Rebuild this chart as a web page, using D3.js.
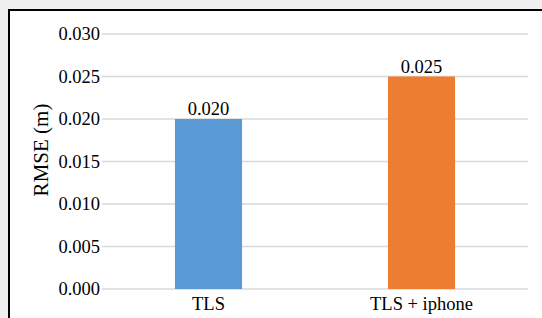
<!DOCTYPE html>
<html>
<head>
<meta charset="utf-8">
<script src="https://cdn.jsdelivr.net/npm/d3@7"></script>
<style>
  body { margin: 0; background: #f0f0f0; }
</style>
</head>
<body>
<div id="chart"></div>
<script>
// data
var categories = ["TLS", "TLS + iphone"];
var rmse = [0.020, 0.025];
var yTicks = [0, 0.005, 0.010, 0.015, 0.020, 0.025, 0.030];
var colors = ["#5b9bd5", "#ed7d31"];

var W = 542, H = 318;
var margin = {top: 34, right: 14, bottom: 29, left: 102},
  width = W - margin.left - margin.right,
  height = H - margin.top - margin.bottom;

var root = d3.select("#chart")
  .append("svg")
  .attr("width", W)
  .attr("height", H)
  .attr("font-family", "Liberation Serif")
  .style("display", "block");

// white chart area with black frame
root.append("rect")
  .attr("x", 9).attr("y", 10)
  .attr("width", W + 20).attr("height", H + 20)
  .attr("fill", "#fff")
  .attr("stroke", "#000")
  .attr("stroke-width", 2);

var svg = root.append("g")
  .attr("transform", "translate(" + margin.left + "," + margin.top + ")");

var x = d3.scaleBand().domain(categories).range([0, width]).padding(0);
var y = d3.scaleLinear().domain([0, 0.030]).range([height, 0]);
var fmt = d3.format(".3f");

// gridlines
svg.selectAll(".grid")
  .data(yTicks)
  .enter().append("line")
  .attr("x1", 0).attr("x2", width)
  .attr("y1", function(d) { return y(d); })
  .attr("y2", function(d) { return y(d); })
  .attr("stroke", "#d9d9d9")
  .attr("stroke-width", 1.3);

// y axis labels
var yAxis = svg.append("g")
  .call(d3.axisLeft(y).tickValues(yTicks).tickFormat(fmt).tickSize(0).tickPadding(2))
  .attr("font-family", "Liberation Serif")
  .attr("font-size", 18.5);
yAxis.select(".domain").remove();
yAxis.selectAll("text").attr("fill", "#000");

// bars
var barW = x.bandwidth() * 0.315;
svg.selectAll(".bar")
  .data(rmse)
  .enter().append("rect")
  .attr("x", function(d, i) { return x(categories[i]) + x.bandwidth() / 2 - barW / 2; })
  .attr("y", function(d) { return y(d); })
  .attr("width", barW)
  .attr("height", function(d) { return height - y(d); })
  .attr("fill", function(d, i) { return colors[i]; });

// value labels
svg.selectAll(".val")
  .data(rmse)
  .enter().append("text")
  .attr("x", function(d, i) { return x(categories[i]) + x.bandwidth() / 2; })
  .attr("y", function(d) { return y(d) - 4; })
  .attr("text-anchor", "middle")
  .attr("font-size", 18.5)
  .text(function(d) { return fmt(d); });

// x axis labels
svg.selectAll(".cat")
  .data(categories)
  .enter().append("text")
  .attr("x", function(d) { return x(d) + x.bandwidth() / 2; })
  .attr("y", height + 21)
  .attr("text-anchor", "middle")
  .attr("font-size", 18.5)
  .text(function(d) { return d; });

// y axis title
svg.append("text")
  .attr("transform", "translate(-54," + (height / 2 - 11.5) + ") rotate(-90)")
  .attr("text-anchor", "middle")
  .attr("font-size", 21)
  .text("RMSE (m)");
</script>
</body>
</html>
